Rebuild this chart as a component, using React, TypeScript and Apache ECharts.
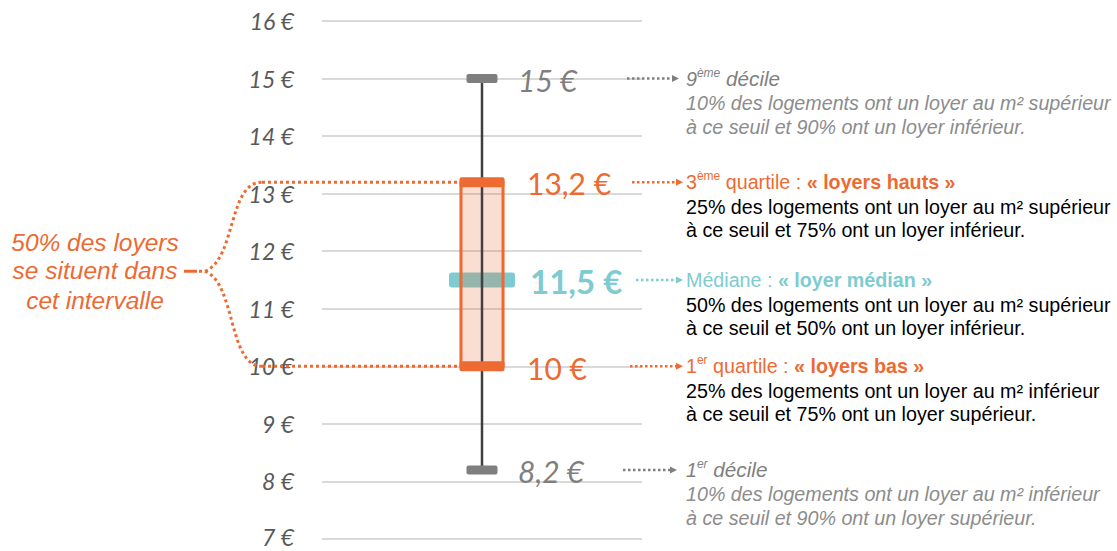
import React, { useEffect, useRef } from "react";
import * as echarts from "echarts";

// Rent distribution per m² (deciles and quartiles)
const categories = ["Loyer au m²"];
const decile1 = [8.2];
const quartile1 = [10];
const median = [11.5];
const quartile3 = [13.2];
const decile9 = [15];

const axisMin = 7;
const axisMax = 16;
const axisStep = 1;

const intervalLabel = ["50% des loyers", "se situent dans", "cet intervalle"];

// Headings (rich text) and explanations for each statistic, top to bottom
const noteHeads = [
  "{g|9}{gs|ème}{gb| décile}",
  "{o|3}{os|ème}{o| quartile : }{ob|« loyers hauts »}",
  "{t|Médiane : }{tb|« loyer médian »}",
  "{o|1}{os|er}{o| quartile : }{ob|« loyers bas »}",
  "{g|1}{gs|er}{gb| décile}",
];
const noteBodies = [
  ["10% des logements ont un loyer au m² supérieur", "à ce seuil et 90% ont un loyer inférieur."],
  ["25% des logements ont un loyer au m² supérieur", "à ce seuil et 75% ont un loyer inférieur."],
  ["50% des logements ont un loyer au m² supérieur", "à ce seuil et 50% ont un loyer inférieur."],
  ["25% des logements ont un loyer au m² inférieur", "à ce seuil et 75% ont un loyer supérieur."],
  ["10% des logements ont un loyer au m² inférieur", "à ce seuil et 90% ont un loyer supérieur."],
];

const ORANGE = "#ED6A32";
const TEAL = "#7ECBD0";
const GRAY = "#7F7F7F";
const DARK = "#404040";
const SANS = "'Liberation Sans', Arial, sans-serif";
const NUM = "Lato, 'Open Sans', sans-serif";

const fmt = (v: number) => `${String(v).replace(".", ",")} €`;

function richStyles(size: number) {
  const base = { fontFamily: SANS, fontSize: size, lineHeight: 24, verticalAlign: "middle" };
  const sup = { fontFamily: SANS, fontSize: 12, lineHeight: 12, verticalAlign: "top" };
  return {
    g: { ...base, fill: GRAY, fontStyle: "italic" },
    gb: { ...base, fill: GRAY, fontStyle: "italic", fontSize: size + 1 },
    gs: { ...sup, fill: GRAY, fontStyle: "italic" },
    o: { ...base, fill: ORANGE },
    os: { ...sup, fill: ORANGE },
    ob: { ...base, fill: ORANGE, fontWeight: "bold" },
    t: { ...base, fill: TEAL },
    tb: { ...base, fill: TEAL, fontWeight: "bold" },
  };
}

function dottedArrow(x0: number, x1: number, y: number, color: string) {
  return [
    {
      type: "line",
      shape: { x1: x0, y1: y, x2: x1, y2: y },
      style: { stroke: color, lineWidth: 2.5, lineDash: [2.5, 2.5] },
    },
    {
      type: "polygon",
      shape: { points: [[x1, y - 3.5], [x1 + 7, y], [x1, y + 3.5]] },
      style: { fill: color },
    },
  ];
}

function renderItem(params: any, api: any) {
  const idx = api.value(0);
  const d1 = api.value(1);
  const q1 = api.value(2);
  const med = api.value(3);
  const q3 = api.value(4);
  const d9 = api.value(5);
  const cx = api.coord([idx, med])[0];
  const py = (v: number) => api.coord([idx, v])[1];

  const yD1 = py(d1);
  const yQ1 = py(q1);
  const yMed = py(med);
  const yQ3 = py(q3);
  const yD9 = py(d9);

  const boxHalf = 22.5;
  const children: any[] = [];

  // median band (under the translucent box)
  children.push({
    type: "rect",
    shape: { x: cx - 33, y: yMed - 7.5, width: 66, height: 15, r: 3 },
    style: { fill: TEAL },
  });
  // interquartile box fill
  children.push({
    type: "rect",
    shape: { x: cx - boxHalf, y: yQ3, width: boxHalf * 2, height: yQ1 - yQ3 },
    style: { fill: ORANGE, opacity: 0.22 },
  });
  // whisker
  children.push({
    type: "line",
    shape: { x1: cx, y1: yD9, x2: cx, y2: yD1 },
    style: { stroke: DARK, lineWidth: 2.5 },
  });
  // box sides
  children.push({
    type: "rect",
    shape: { x: cx - boxHalf + 1.5, y: yQ3, width: boxHalf * 2 - 3, height: yQ1 - yQ3 },
    style: { fill: "none", stroke: ORANGE, lineWidth: 3 },
  });
  // quartile bands
  [yQ3, yQ1].forEach((y) =>
    children.push({
      type: "rect",
      shape: { x: cx - boxHalf, y: y - 5, width: boxHalf * 2, height: 10, r: 2 },
      style: { fill: ORANGE },
    })
  );
  // decile caps
  [yD9, yD1].forEach((y) =>
    children.push({
      type: "rect",
      shape: { x: cx - 15.5, y: y - 4.5, width: 31, height: 9, r: 2 },
      style: { fill: GRAY },
    })
  );

  // value labels
  const valueLabel = (v: number, y: number, dx: number, color: string, style: string, weight: string, size: number) => ({
    type: "text",
    x: cx + dx,
    y,
    style: {
      text: fmt(v),
      fill: color,
      fontFamily: NUM,
      fontSize: size,
      fontStyle: style,
      fontWeight: weight,
      align: "left",
      verticalAlign: "middle",
    },
  });
  children.push(valueLabel(d9, yD9 + 1, 36, GRAY, "italic", "normal", 30));
  children.push(valueLabel(q3, yQ3 + 1, 45, ORANGE, "normal", "normal", 30));
  children.push(valueLabel(med, yMed + 1, 48, TEAL, "normal", "bold", 33));
  children.push(valueLabel(q1, yQ1 + 2, 45, ORANGE, "normal", "normal", 30));
  children.push(valueLabel(d1, yD1 + 1, 36, GRAY, "italic", "normal", 30));

  // arrows towards the notes
  children.push(...dottedArrow(627, 672, yD9, GRAY));
  children.push(...dottedArrow(632, 676, yQ3, ORANGE));
  children.push(...dottedArrow(636, 676, yMed, TEAL));
  children.push(...dottedArrow(630, 676, yQ1, ORANGE));
  children.push(...dottedArrow(623, 670, yD1, GRAY));

  // notes on the right
  const ys = [yD9, yQ3, yMed, yQ1, yD1];
  const rich = richStyles(19.7);
  ys.forEach((y, i) => {
    const grayNote = i === 0 || i === 4;
    children.push({
      type: "text",
      x: 686,
      y,
      style: { text: noteHeads[i], rich, align: "left", verticalAlign: "middle" },
    });
    noteBodies[i].forEach((line, j) =>
      children.push({
        type: "text",
        x: 686,
        y: y + 24.5 + j * 23.5,
        style: {
          text: line,
          fill: grayNote ? "#8C8C8C" : "#000000",
          fontFamily: SANS,
          fontSize: 19.7,
          fontStyle: grayNote ? "italic" : "normal",
          align: "left",
          verticalAlign: "middle",
        },
      })
    );
  });

  // brace around the interquartile range
  const mid = (yQ1 + yQ3) / 2;
  const jx = 205;
  const jy = mid - 3;
  const dot = { stroke: ORANGE, lineWidth: 3, lineDash: [3, 3], fill: "none" };
  children.push({
    type: "bezierCurve",
    shape: { x1: jx, y1: jy, cpx1: 236, cpy1: jy - 12, cpx2: 228, cpy2: yQ3, x2: 262, y2: yQ3 },
    style: dot,
  });
  children.push({
    type: "bezierCurve",
    shape: { x1: jx, y1: jy, cpx1: 236, cpy1: jy + 12, cpx2: 228, cpy2: yQ1, x2: 262, y2: yQ1 },
    style: dot,
  });
  children.push({ type: "line", shape: { x1: 262, y1: yQ3, x2: cx - boxHalf, y2: yQ3 }, style: dot });
  children.push({ type: "line", shape: { x1: 262, y1: yQ1, x2: cx - boxHalf, y2: yQ1 }, style: dot });
  children.push({
    type: "line",
    shape: { x1: 184, y1: jy, x2: 197, y2: jy },
    style: { stroke: ORANGE, lineWidth: 3 },
  });
  children.push({
    type: "line",
    shape: { x1: 199, y1: jy, x2: jx, y2: jy },
    style: dot,
  });

  const lineOffsets = [-31.5, -3.5, 26.5];
  intervalLabel.forEach((line, i) =>
    children.push({
      type: "text",
      x: 95,
      y: mid + lineOffsets[i],
      style: {
        text: line,
        fill: ORANGE,
        fontFamily: SANS,
        fontSize: 24.5,
        fontStyle: "italic",
        align: "center",
        verticalAlign: "middle",
      },
    })
  );

  return { type: "group", children };
}

export default function App() {
  const ref = useRef<HTMLDivElement>(null);

  useEffect(() => {
    if (!ref.current) return;
    const chart = echarts.init(ref.current, undefined, { renderer: "svg" });
    chart.setOption({
      animation: false,
      grid: { left: 322, right: 475, top: 21, bottom: 12, outerBoundsMode: "none", containLabel: false },
      xAxis: { type: "category", data: categories, show: false },
      yAxis: {
        type: "value",
        min: axisMin,
        max: axisMax,
        interval: axisStep,
        axisLine: { show: false },
        axisTick: { show: false },
        splitLine: { lineStyle: { color: "#D9D9D9", width: 2 } },
        axisLabel: {
          // the lowest label is nudged up so it stays inside the canvas
          formatter: (v: number) => (v === axisMin ? `{low|${v} €}` : `${v} €`),
          color: "#595959",
          fontFamily: NUM,
          fontStyle: "italic",
          fontSize: 23,
          lineHeight: 20,
          margin: 28,
          rich: {
            low: {
              color: "#595959",
              fontFamily: NUM,
              fontStyle: "italic",
              fontSize: 23,
              lineHeight: 20,
              padding: [0, 0, 5, 0],
            },
          },
        },
      },
      series: [
        {
          type: "custom",
          clip: false,
          renderItem,
          encode: { x: 0, y: [1, 2, 3, 4, 5] },
          data: categories.map((_, i) => [i, decile1[i], quartile1[i], median[i], quartile3[i], decile9[i]]),
        },
      ],
    });
    return () => chart.dispose();
  }, []);

  return (
    <div
      ref={ref}
      style={{ position: "absolute", left: 0, top: 0, width: 1117, height: 551, background: "#fff" }}
    />
  );
}
